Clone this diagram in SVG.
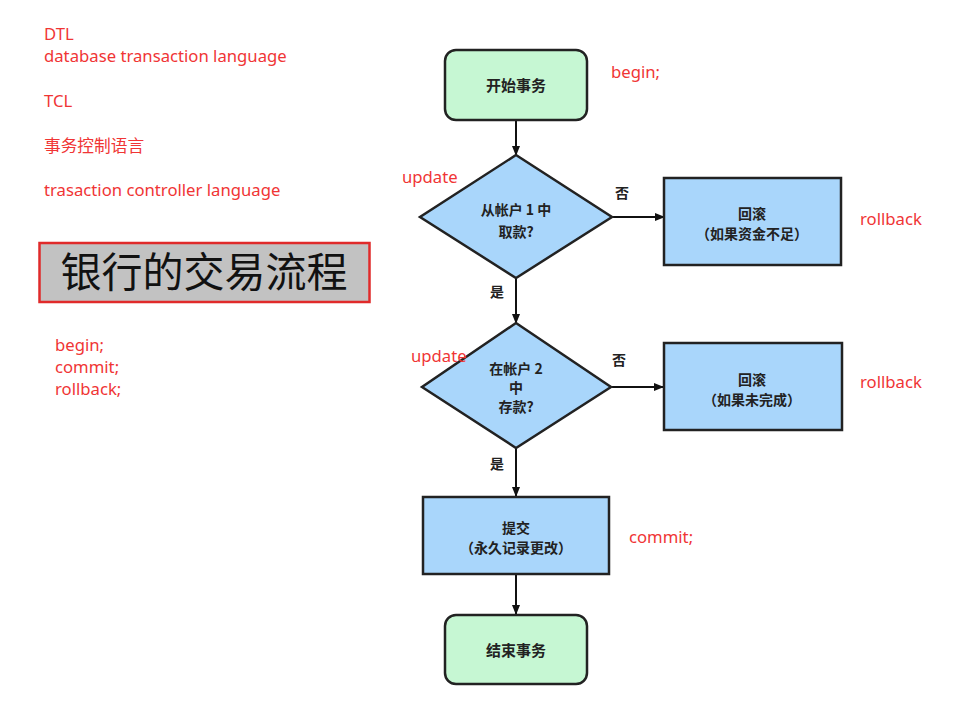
<svg xmlns="http://www.w3.org/2000/svg" width="963" height="716" viewBox="0 0 963 716">
<defs>
<style>
.note{font-family:"Noto Sans","Noto Sans CJK SC",sans-serif;font-size:16.7px;fill:#f03535}
.lbl{font-family:"Noto Sans CJK SC","Noto Sans",sans-serif;font-size:14px;font-weight:bold;fill:#222;text-anchor:middle}
.big{font-size:15px}
.term{fill:#c6f7d3;stroke:#222;stroke-width:2.5}
.proc{fill:#a9d6fb;stroke:#222;stroke-width:2.5}
.edge{stroke:#111;stroke-width:2;fill:none;marker-end:url(#arr)}
</style>
<marker id="arr" viewBox="0 0 10 10" refX="9" refY="5" markerWidth="5" markerHeight="5" orient="auto" markerUnits="strokeWidth">
<path d="M0,1 L10,5 L0,9 z" fill="#111"/>
</marker>
</defs>
<rect width="963" height="716" fill="#fff"/>
<g id="notes-left">
<text class="note" x="44" y="40">DTL</text>
<text class="note" x="44" y="62">database transaction language</text>
<text class="note" x="44" y="107">TCL</text>
<text class="note" x="44" y="152">事务控制语言</text>
<text class="note" x="44" y="196">trasaction controller language</text>
<text class="note" x="55" y="351">begin;</text>
<text class="note" x="55" y="373">commit;</text>
<text class="note" x="55" y="395">rollback;</text>
</g>
<g id="title">
<rect x="39.5" y="243" width="330" height="59" fill="#c2c2c2" stroke="#e02a2a" stroke-width="2.5"/>
<text x="204" y="287" font-family="Noto Sans CJK SC,sans-serif" font-size="41" fill="#111" text-anchor="middle">银行的交易流程</text>
</g>
<g id="connectors">
<line class="edge" x1="516" y1="121" x2="516" y2="155"/>
<line class="edge" x1="612" y1="217" x2="664" y2="217"/>
<line class="edge" x1="516" y1="278" x2="516" y2="323"/>
<line class="edge" x1="611" y1="387" x2="663" y2="387"/>
<line class="edge" x1="516" y1="448" x2="516" y2="496"/>
<line class="edge" x1="516" y1="575" x2="516" y2="614"/>
<text class="lbl" x="622" y="198">否</text>
<text class="lbl" x="619" y="365">否</text>
<text class="lbl" x="497" y="297">是</text>
<text class="lbl" x="497" y="469">是</text>
</g>
<g id="start">
<rect class="term" x="445" y="50" width="142" height="70" rx="11"/>
<text class="lbl big" x="516" y="91">开始事务</text>
</g>
<g id="withdraw">
<polygon class="proc" points="516,155 612,217 516,278 420,217"/>
<text class="lbl" x="516" y="215">从帐户 1 中</text>
<text class="lbl" x="516" y="237">取款?</text>
</g>
<g id="rollback1">
<rect class="proc" x="664" y="178" width="177" height="87"/>
<text class="lbl" x="752" y="219">回滚</text>
<text class="lbl" x="752" y="239">（如果资金不足）</text>
</g>
<g id="deposit">
<polygon class="proc" points="516,323 611,387 516,448 422,387"/>
<text class="lbl" x="516" y="374">在帐户 2</text>
<text class="lbl" x="516" y="393">中</text>
<text class="lbl" x="516" y="412">存款?</text>
</g>
<g id="rollback2">
<rect class="proc" x="664" y="343" width="178" height="87"/>
<text class="lbl" x="752" y="385">回滚</text>
<text class="lbl" x="752" y="405">（如果未完成）</text>
</g>
<g id="commit">
<rect class="proc" x="423" y="497" width="186" height="77"/>
<text class="lbl" x="516" y="533">提交</text>
<text class="lbl" x="516" y="553">（永久记录更改）</text>
</g>
<g id="end">
<rect class="term" x="445" y="615" width="142" height="69" rx="11"/>
<text class="lbl big" x="516" y="656">结束事务</text>
</g>
<g id="notes-right">
<text class="note" x="611" y="78">begin;</text>
<text class="note" x="402" y="183">update</text>
<text class="note" x="860" y="225">rollback</text>
<text class="note" x="411" y="362">update</text>
<text class="note" x="860" y="388">rollback</text>
<text class="note" x="629" y="543">commit;</text>
</g>
</svg>
